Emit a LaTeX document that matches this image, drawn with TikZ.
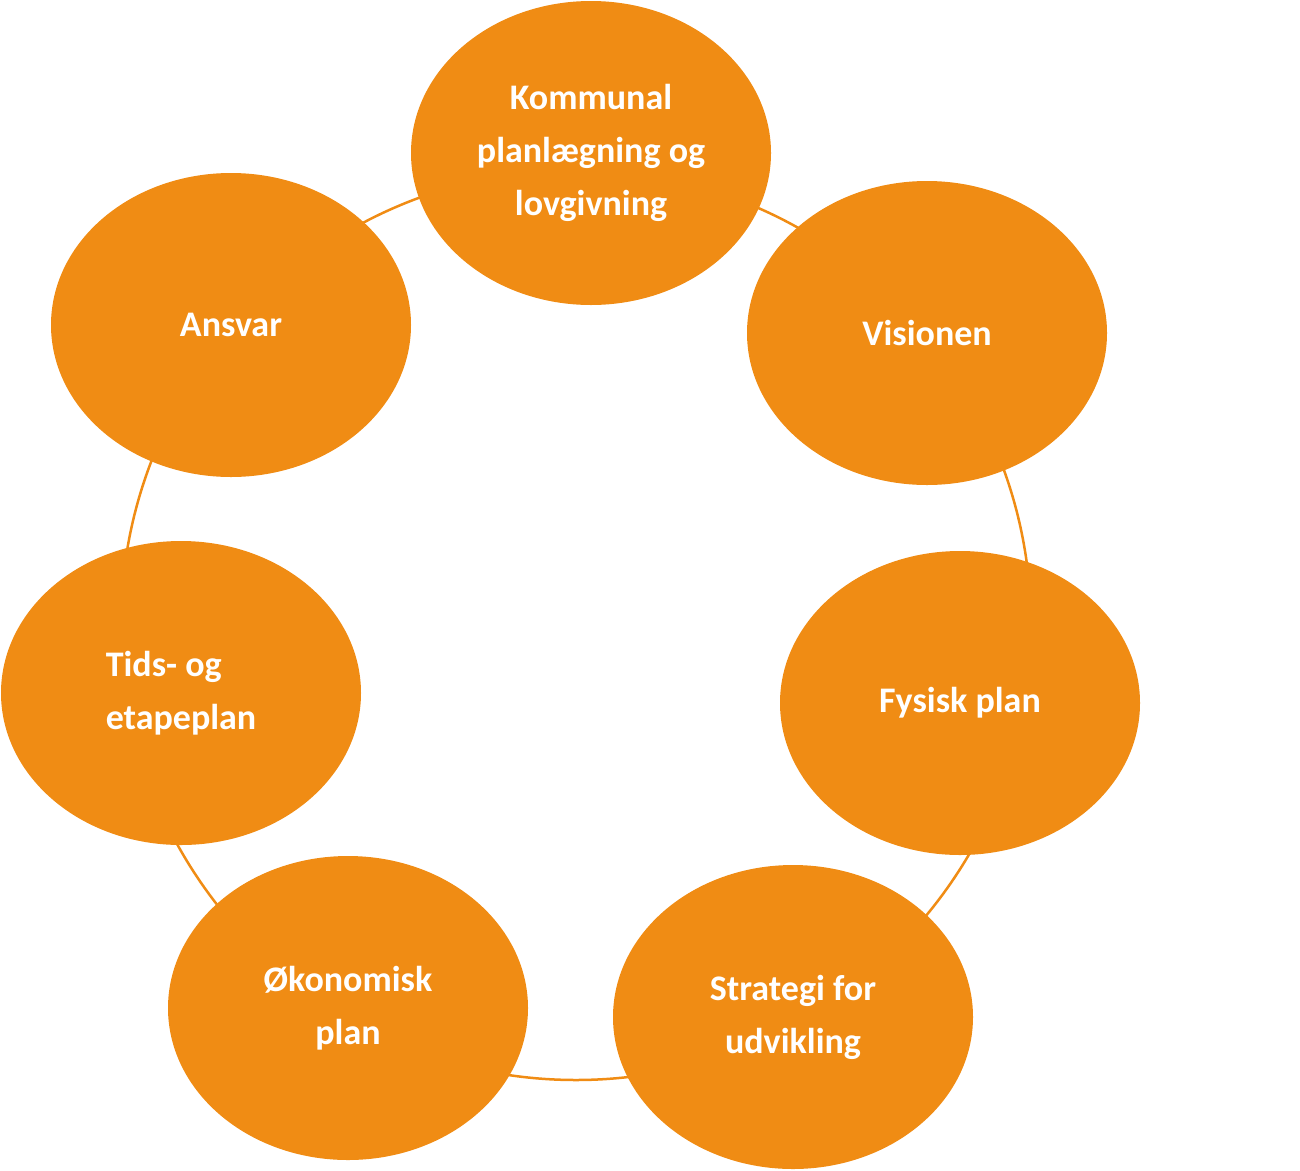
\documentclass[tikz,border=0pt]{standalone}
\usepackage{fontspec}
\setmainfont{Carlito}
\usetikzlibrary{shapes.geometric}
\definecolor{org}{HTML}{F08C14}
\begin{document}
\begin{tikzpicture}[x=1pt,y=-1pt,
  bub/.style={ellipse,fill=org,minimum width=360pt,minimum height=304pt,inner sep=0pt,text=white,font=\fontsize{36}{53}\selectfont\bfseries,align=center}]
\useasboundingbox (0,0) rectangle (1300,1170);
\draw[org,line width=2.5pt] (576,625) circle (455pt);
\node[bub] (k) at (591,153) {Kommunal\\planlægning og\\lovgivning};
\node[bub] (v) at (927,333) {Visionen};
\node[bub] (f) at (960,703) {Fysisk plan};
\node[bub] (s) at (793,1017) {Strategi for\\udvikling};
\node[bub] (o) at (348,1008) {Økonomisk\\plan};
\node[bub,align=left] (t) at (181,693) {Tids- og\\etapeplan};
\node[bub] (a) at (231,325) {Ansvar};
\end{tikzpicture}
\end{document}
